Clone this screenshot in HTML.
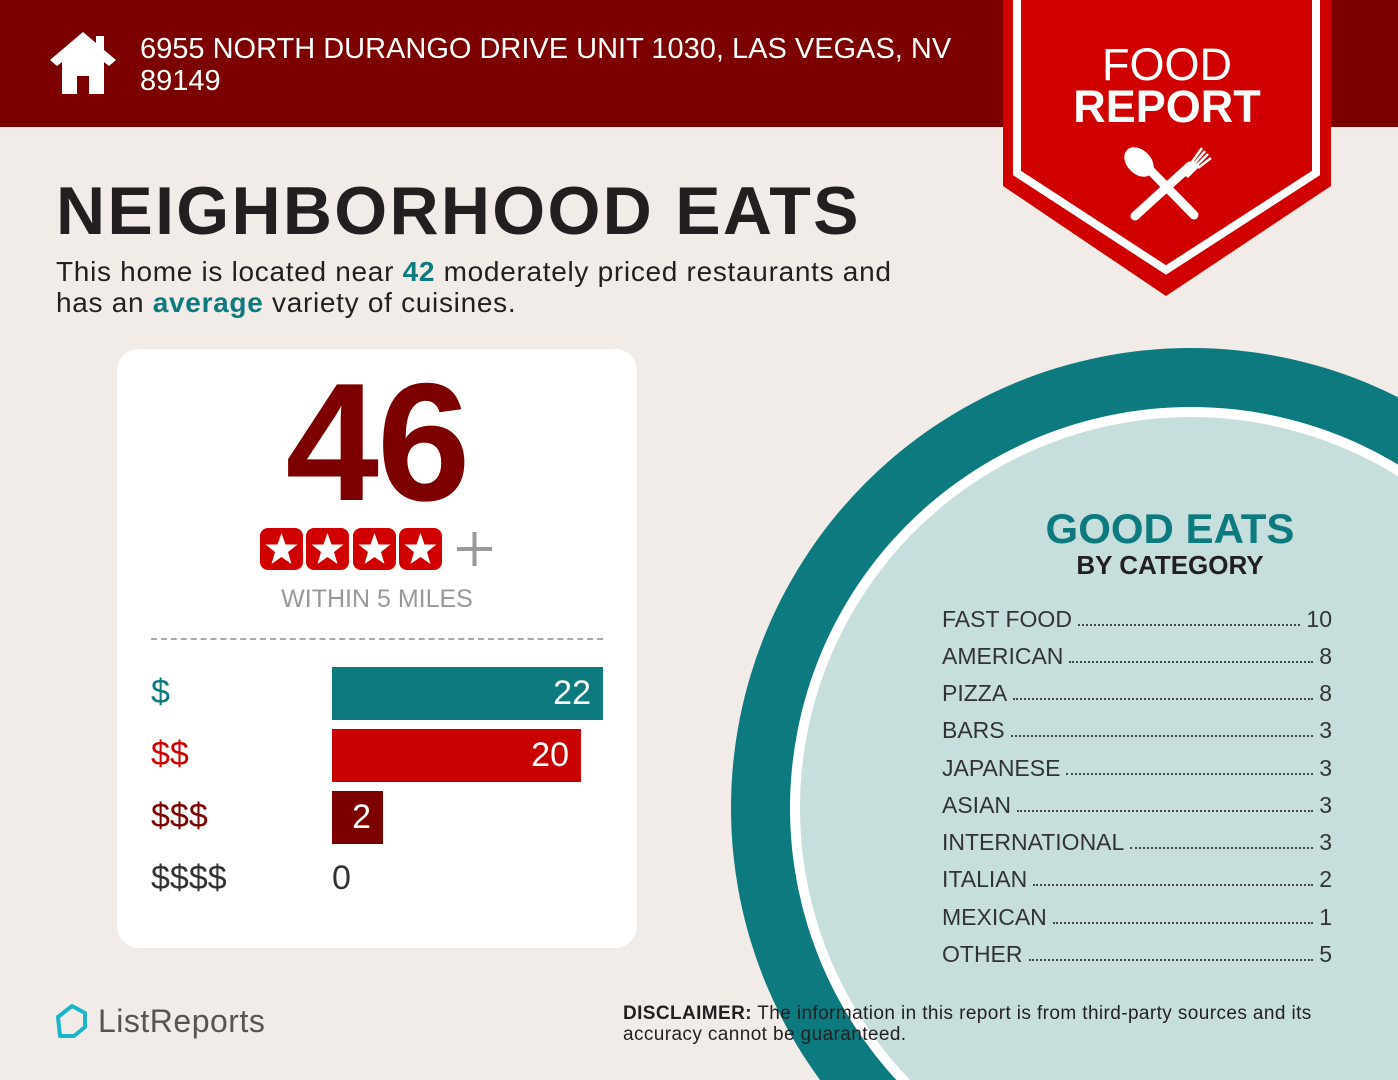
<!DOCTYPE html>
<html><head><meta charset="utf-8"><style>
*{margin:0;padding:0;box-sizing:border-box}
html,body{width:1398px;height:1080px;overflow:hidden}
body{background:#f1ece8;font-family:"Liberation Sans",sans-serif;position:relative}
.abs{position:absolute}
.row{position:absolute;left:942px;width:390px;display:flex;align-items:baseline;font-size:23px;color:#333;height:30px}
.row .d{flex:1;border-bottom:2px dotted #444;margin:0 6px;height:1px;align-self:center;margin-top:8px}
</style></head><body>
<div class="abs" style="left:0;top:0;width:1398px;height:127px;background:#7c0000"></div>
<svg class="abs" style="left:48px;top:30px" width="70" height="66" viewBox="0 0 70 66">
<path d="M35 2 L2 30 L9 36 L14 32 L14 64 L29 64 L29 46 L41 46 L41 64 L56 64 L56 32 L61 36 L68 30 L56 20 L56 6 L48 6 L48 13 Z" fill="#fff"/></svg>
<div class="abs" style="left:140px;top:33px;color:#fff;font-size:29px;line-height:32px;width:860px">6955 NORTH DURANGO DRIVE UNIT 1030, LAS VEGAS, NV 89149</div>
<svg class="abs" style="left:0;top:0" width="1398" height="1080">
<circle cx="1191" cy="808" r="460" fill="#0c7a7e"/>
<circle cx="1191" cy="808" r="401" fill="#fff"/>
<circle cx="1191" cy="808" r="391" fill="#c6dfdd"/>
<polygon points="1003,0 1331,0 1331,186 1166,296 1003,186" fill="#d10000"/>
<polyline points="1017,0 1017,173 1166,270 1316,173 1316,0" fill="none" stroke="#fff" stroke-width="8"/>
<g fill="#fff" stroke="#fff">
<line x1="1135" y1="216" x2="1190" y2="166" stroke-width="9" stroke-linecap="round"/>
<line x1="1194" y1="215" x2="1150" y2="170" stroke-width="9" stroke-linecap="round"/>
<ellipse cx="1139" cy="162" rx="12" ry="17" transform="rotate(-45 1139 162)" stroke="none"/>
<path d="M1180 172 L1192 160 L1200 166 L1188 178 Z" stroke="none"/>
<line x1="1192" y1="162" x2="1202" y2="148" stroke-width="2.5"/><line x1="1194" y1="164" x2="1205" y2="151" stroke-width="2.5"/>
<line x1="1196" y1="166" x2="1208" y2="154" stroke-width="2.5"/><line x1="1198" y1="168" x2="1211" y2="158" stroke-width="2.5"/>
</g>
</svg>
<div class="abs" style="left:1003px;top:44px;width:328px;text-align:center;color:#fff;font-size:45px;line-height:42px">FOOD<br><b style="font-weight:bold">REPORT</b></div>
<div class="abs" style="left:56px;top:172px;font-size:68px;font-weight:bold;color:#231f20;letter-spacing:2.3px">NEIGHBORHOOD EATS</div>
<div class="abs" style="left:56px;top:256px;font-size:28px;line-height:31px;color:#231f20;width:960px;letter-spacing:0.7px;white-space:nowrap">This home is located near <b style="color:#0c7a7e">42</b> moderately priced restaurants and<br>has an <b style="color:#0c7a7e">average</b> variety of cuisines.</div>
<div class="abs" style="left:117px;top:349px;width:520px;height:599px;background:#fff;border-radius:22px"></div>
<div class="abs" style="left:117px;top:362px;width:520px;text-align:center;font-size:168px;font-weight:bold;color:#7c0000;letter-spacing:-2px;line-height:160px">46</div>
<svg class="abs" style="left:260px;top:528px" width="240" height="44">
<g fill="#d10000"><rect x="0" y="0" width="43" height="42" rx="8"/><rect x="46" y="0" width="43" height="42" rx="8"/><rect x="93" y="0" width="43" height="42" rx="8"/><rect x="139" y="0" width="43" height="42" rx="8"/></g>
<g fill="#fff"><polygon id="s" points="21.5,5 25.5,16.5 37.5,16.5 28,24 31.5,36 21.5,29 11.5,36 15,24 5.5,16.5 17.5,16.5"/>
<use href="#s" x="46"/><use href="#s" x="93"/><use href="#s" x="139"/></g>
<g stroke="#999" stroke-width="4"><line x1="197" y1="21" x2="232" y2="21"/><line x1="214.5" y1="4" x2="214.5" y2="38"/></g>
</svg>
<div class="abs" style="left:117px;top:585px;width:520px;text-align:center;font-size:25px;color:#999">WITHIN 5 MILES</div>
<div class="abs" style="left:151px;top:638px;width:452px;border-top:2px dashed #aaa"></div>
<div class="abs" style="left:151px;top:673px;font-size:34px;color:#0c7a7e">$</div>
<div class="abs" style="left:151px;top:735px;font-size:34px;color:#d10000">$$</div>
<div class="abs" style="left:151px;top:797px;font-size:34px;color:#7c0000">$$$</div>
<div class="abs" style="left:151px;top:859px;font-size:34px;color:#333">$$$$</div>
<div class="abs" style="left:332px;top:667px;width:271px;height:53px;background:#0c7a7e;color:#fff;font-size:34px;text-align:right;padding-right:12px;line-height:53px">22</div>
<div class="abs" style="left:332px;top:729px;width:249px;height:53px;background:#c80000;color:#fff;font-size:34px;text-align:right;padding-right:12px;line-height:53px">20</div>
<div class="abs" style="left:332px;top:791px;width:51px;height:53px;background:#7c0000;color:#fff;font-size:34px;text-align:right;padding-right:12px;line-height:53px">2</div>
<div class="abs" style="left:332px;top:859px;font-size:34px;color:#333">0</div>
<div class="abs" style="left:1000px;top:505px;width:340px;text-align:center;color:#0c7a7e;font-size:42px;font-weight:bold">GOOD EATS</div>
<div class="abs" style="left:1000px;top:550px;width:340px;text-align:center;color:#231f20;font-size:26px;font-weight:bold">BY CATEGORY</div>
<div class="row" style="top:606px"><span>FAST FOOD</span><span class="d"></span><span>10</span></div>
<div class="row" style="top:643px"><span>AMERICAN</span><span class="d"></span><span>8</span></div>
<div class="row" style="top:680px"><span>PIZZA</span><span class="d"></span><span>8</span></div>
<div class="row" style="top:717px"><span>BARS</span><span class="d"></span><span>3</span></div>
<div class="row" style="top:755px"><span>JAPANESE</span><span class="d"></span><span>3</span></div>
<div class="row" style="top:792px"><span>ASIAN</span><span class="d"></span><span>3</span></div>
<div class="row" style="top:829px"><span>INTERNATIONAL</span><span class="d"></span><span>3</span></div>
<div class="row" style="top:866px"><span>ITALIAN</span><span class="d"></span><span>2</span></div>
<div class="row" style="top:904px"><span>MEXICAN</span><span class="d"></span><span>1</span></div>
<div class="row" style="top:941px"><span>OTHER</span><span class="d"></span><span>5</span></div>
<svg class="abs" style="left:54px;top:1003px" width="36" height="36"><path d="M4 14 L18 3 L31 10 L31 24 L20 33 L6 33 Z" fill="none" stroke="#1ab5c8" stroke-width="4" stroke-linejoin="round"/></svg>
<div class="abs" style="left:98px;top:1003px;font-size:32px;color:#555;letter-spacing:0.5px">ListReports</div>
<div class="abs" style="left:623px;top:1003px;width:720px;font-size:19px;line-height:21px;color:#231f20;letter-spacing:0.4px"><b>DISCLAIMER:</b> The information in this report is from third-party sources and its accuracy cannot be guaranteed.</div>
</body></html>
